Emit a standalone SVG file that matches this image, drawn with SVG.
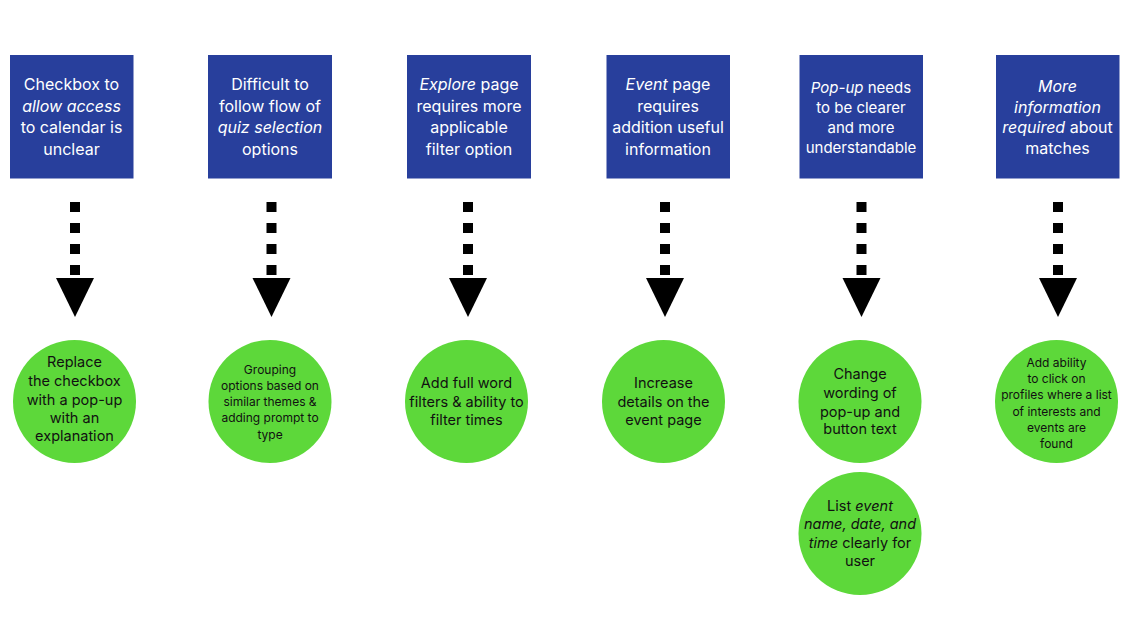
<svg xmlns="http://www.w3.org/2000/svg" width="1139" height="640" viewBox="0 0 1139 640">
<style>
.box{fill:#283F9C;}
.bt{font-family:Inter,"Liberation Sans",sans-serif;font-size:16px;fill:#ffffff;text-anchor:middle;}
.ct{font-family:Inter,"Liberation Sans",sans-serif;font-size:14.5px;fill:#111111;text-anchor:middle;}
.cs{font-size:12px;}
.circ{fill:#5DD83A;}
.dash{stroke:#000;stroke-width:10;stroke-dasharray:10 11;fill:none;}
.head{fill:#000;}
.it{font-style:italic;}
</style>
<rect width="1139" height="640" fill="#ffffff"/>
<g id="connectors">
  <line class="dash" x1="75" y1="202" x2="75" y2="275"/><polygon class="head" points="56,278 94,278 75,317"/>
  <line class="dash" x1="271.5" y1="202" x2="271.5" y2="275"/><polygon class="head" points="252.5,278 290.5,278 271.5,317"/>
  <line class="dash" x1="468" y1="202" x2="468" y2="275"/><polygon class="head" points="449,278 487,278 468,317"/>
  <line class="dash" x1="665" y1="202" x2="665" y2="275"/><polygon class="head" points="646,278 684,278 665,317"/>
  <line class="dash" x1="861.5" y1="202" x2="861.5" y2="275"/><polygon class="head" points="842.5,278 880.5,278 861.5,317"/>
  <line class="dash" x1="1058" y1="202" x2="1058" y2="275"/><polygon class="head" points="1039,278 1077,278 1058,317"/>
</g>
<g id="box1"><rect class="box" x="10" y="55" width="123.5" height="123.5"/>
<text class="bt" x="71.5" y="90">Checkbox to</text>
<text class="bt it" x="71.5" y="111.7">allow access</text>
<text class="bt" x="71.5" y="133.3">to calendar is</text>
<text class="bt" x="71.5" y="155">unclear</text></g>
<g id="box2"><rect class="box" x="208" y="55" width="124" height="123.5"/>
<text class="bt" x="270" y="90">Difficult to</text>
<text class="bt" x="270" y="111.7">follow flow of</text>
<text class="bt it" x="270" y="133.3">quiz selection</text>
<text class="bt" x="270" y="155">options</text></g>
<g id="box3"><rect class="box" x="407" y="55" width="124" height="123.5"/>
<text class="bt" x="469" y="90"><tspan class="it">Explore</tspan> page</text>
<text class="bt" x="469" y="111.7">requires more</text>
<text class="bt" x="469" y="133.3">applicable</text>
<text class="bt" x="469" y="155">filter option</text></g>
<g id="box4"><rect class="box" x="606.5" y="55" width="123.5" height="123.5"/>
<text class="bt" x="668" y="90"><tspan class="it">Event</tspan> page</text>
<text class="bt" x="668" y="111.7">requires</text>
<text class="bt" x="668" y="133.3">addition useful</text>
<text class="bt" x="668" y="155">information</text></g>
<g id="box5"><rect class="box" x="799.5" y="55" width="123.5" height="123.5"/>
<text class="bt" x="861" y="92.5" style="font-size:15px"><tspan class="it">Pop-up</tspan> needs</text>
<text class="bt" x="861" y="113" style="font-size:15px">to be clearer</text>
<text class="bt" x="861" y="133" style="font-size:15px">and more</text>
<text class="bt" x="861" y="153" style="font-size:15px">understandable</text></g>
<g id="box6"><rect class="box" x="996" y="55" width="123.5" height="123.5"/>
<text class="bt it" x="1057.5" y="91.5">More</text>
<text class="bt it" x="1057.5" y="112.5">information</text>
<text class="bt" x="1057.5" y="133.3"><tspan class="it">required</tspan> about</text>
<text class="bt" x="1057.5" y="154">matches</text></g>
<g id="sol1"><circle class="circ" cx="74.5" cy="401.5" r="61.5"/>
<text class="ct" x="74.5" y="367">Replace</text>
<text class="ct" x="74.5" y="386">the checkbox</text>
<text class="ct" x="74.5" y="404.5">with a pop-up</text>
<text class="ct" x="74.5" y="423">with an</text>
<text class="ct" x="74.5" y="441">explanation</text></g>
<g id="sol2"><circle class="circ" cx="270" cy="401.5" r="61.5"/>
<text class="ct cs" x="270" y="374">Grouping</text>
<text class="ct cs" x="270" y="389.5">options based on</text>
<text class="ct cs" x="270" y="405.5">similar themes &amp;</text>
<text class="ct cs" x="270" y="422">adding prompt to</text>
<text class="ct cs" x="270" y="439">type</text></g>
<g id="sol3"><circle class="circ" cx="466.5" cy="401.5" r="61.5"/>
<text class="ct" x="466.5" y="388">Add full word</text>
<text class="ct" x="466.5" y="407">filters &amp; ability to</text>
<text class="ct" x="466.5" y="425">filter times</text></g>
<g id="sol4"><circle class="circ" cx="663.5" cy="401.5" r="61.5"/>
<text class="ct" x="663.5" y="388">Increase</text>
<text class="ct" x="663.5" y="407">details on the</text>
<text class="ct" x="663.5" y="425">event page</text></g>
<g id="sol5"><circle class="circ" cx="860" cy="401.5" r="61.5"/>
<text class="ct" x="860" y="379">Change</text>
<text class="ct" x="860" y="398">wording of</text>
<text class="ct" x="860" y="416.5">pop-up and</text>
<text class="ct" x="860" y="434">button text</text></g>
<g id="sol5b"><circle class="circ" cx="860" cy="533.5" r="61.5"/>
<text class="ct" x="860" y="511">List <tspan class="it">event</tspan></text>
<text class="ct it" x="860" y="529">name, date, and</text>
<text class="ct" x="860" y="547.5"><tspan class="it">time</tspan> clearly for</text>
<text class="ct" x="860" y="566">user</text></g>
<g id="sol6"><circle class="circ" cx="1056.5" cy="401.5" r="61.5"/>
<text class="ct cs" x="1056.5" y="367">Add ability</text>
<text class="ct cs" x="1056.5" y="383">to click on</text>
<text class="ct cs" x="1056.5" y="399">profiles where a list</text>
<text class="ct cs" x="1056.5" y="415.5">of interests and</text>
<text class="ct cs" x="1056.5" y="432">events are</text>
<text class="ct cs" x="1056.5" y="448">found</text></g>
</svg>
